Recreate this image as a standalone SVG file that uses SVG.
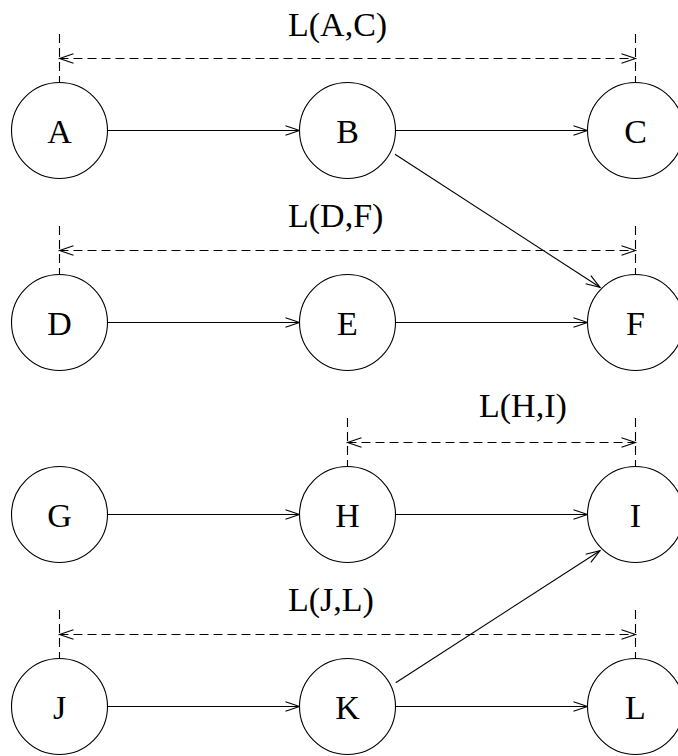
<svg xmlns="http://www.w3.org/2000/svg" width="678" height="756" viewBox="0 0 678 756">
<style>
.node circle{fill:#fff;stroke:#000;stroke-width:1.1}
.node text,.lbl{font-family:"Liberation Serif","Times New Roman",serif;font-size:34px;fill:#000}
.node text{text-anchor:middle}
.edge{stroke:#000;stroke-width:1.1;fill:none;marker-end:url(#ah)}
.dim{stroke:#000;stroke-width:1.1;fill:none;stroke-dasharray:9 5;marker-start:url(#ahs);marker-end:url(#ah)}
.tick{stroke:#000;stroke-width:1.1;fill:none;stroke-dasharray:9 5}
</style>
<defs>
<marker id="ah" markerUnits="userSpaceOnUse" markerWidth="16" markerHeight="12" refX="15" refY="6" orient="auto" overflow="visible">
<path d="M1,1.2 L15,6 L1,10.8" fill="none" stroke="#000" stroke-width="1.1" stroke-dasharray="none"/>
</marker>
<marker id="ahs" markerUnits="userSpaceOnUse" markerWidth="16" markerHeight="12" refX="1" refY="6" orient="auto" overflow="visible">
<path d="M15,1.2 L1,6 L15,10.8" fill="none" stroke="#000" stroke-width="1.1" stroke-dasharray="none"/>
</marker>
</defs>
<g id="connectors">
<line class="edge" x1="107.5" y1="130.5" x2="299.5" y2="130.5"/>
<line class="edge" x1="395.5" y1="130.5" x2="587.5" y2="130.5"/>
<line class="edge" x1="395" y1="154.3" x2="600" y2="287.3"/>
<line class="edge" x1="107.5" y1="322.5" x2="299.5" y2="322.5"/>
<line class="edge" x1="395.5" y1="322.5" x2="587.5" y2="322.5"/>
<line class="edge" x1="107.5" y1="514.5" x2="299.5" y2="514.5"/>
<line class="edge" x1="395.5" y1="514.5" x2="587.5" y2="514.5"/>
<line class="edge" x1="395.7" y1="682.7" x2="600" y2="550.7"/>
<line class="edge" x1="107.5" y1="706.5" x2="299.5" y2="706.5"/>
<line class="edge" x1="395.5" y1="706.5" x2="587.5" y2="706.5"/>
<line class="tick" x1="59.5" y1="34" x2="59.5" y2="82.5"/>
<line class="tick" x1="635.5" y1="34" x2="635.5" y2="82.5"/>
<line class="dim" x1="59.5" y1="58.5" x2="635.5" y2="58.5"/>
<line class="tick" x1="59.5" y1="226" x2="59.5" y2="274.5"/>
<line class="tick" x1="635.5" y1="226" x2="635.5" y2="274.5"/>
<line class="dim" x1="59.5" y1="250.5" x2="635.5" y2="250.5"/>
<line class="tick" x1="347.5" y1="418" x2="347.5" y2="466.5"/>
<line class="tick" x1="635.5" y1="418" x2="635.5" y2="466.5"/>
<line class="dim" x1="347.5" y1="442.5" x2="635.5" y2="442.5"/>
<line class="tick" x1="59.5" y1="610" x2="59.5" y2="658.5"/>
<line class="tick" x1="635.5" y1="610" x2="635.5" y2="658.5"/>
<line class="dim" x1="59.5" y1="634.5" x2="635.5" y2="634.5"/>
<text class="lbl" x="288" y="36">L(A,C)</text>
<text class="lbl" x="288" y="227">L(D,F)</text>
<text class="lbl" x="479" y="417">L(H,I)</text>
<text class="lbl" x="288" y="611">L(J,L)</text>
</g>
<g id="A" class="node"><circle cx="59.5" cy="130.5" r="48"/><text x="59.5" y="143">A</text></g>
<g id="B" class="node"><circle cx="347.5" cy="130.5" r="48"/><text x="347.5" y="143">B</text></g>
<g id="C" class="node"><circle cx="635.5" cy="130.5" r="48"/><text x="635.5" y="143">C</text></g>
<g id="D" class="node"><circle cx="59.5" cy="322.5" r="48"/><text x="59.5" y="335">D</text></g>
<g id="E" class="node"><circle cx="347.5" cy="322.5" r="48"/><text x="347.5" y="335">E</text></g>
<g id="F" class="node"><circle cx="635.5" cy="322.5" r="48"/><text x="635.5" y="335">F</text></g>
<g id="G" class="node"><circle cx="59.5" cy="514.5" r="48"/><text x="59.5" y="527">G</text></g>
<g id="H" class="node"><circle cx="347.5" cy="514.5" r="48"/><text x="347.5" y="527">H</text></g>
<g id="I" class="node"><circle cx="635.5" cy="514.5" r="48"/><text x="635.5" y="527">I</text></g>
<g id="J" class="node"><circle cx="59.5" cy="706.5" r="48"/><text x="59.5" y="719">J</text></g>
<g id="K" class="node"><circle cx="347.5" cy="706.5" r="48"/><text x="347.5" y="719">K</text></g>
<g id="L" class="node"><circle cx="635.5" cy="706.5" r="48"/><text x="635.5" y="719">L</text></g>
</svg>
